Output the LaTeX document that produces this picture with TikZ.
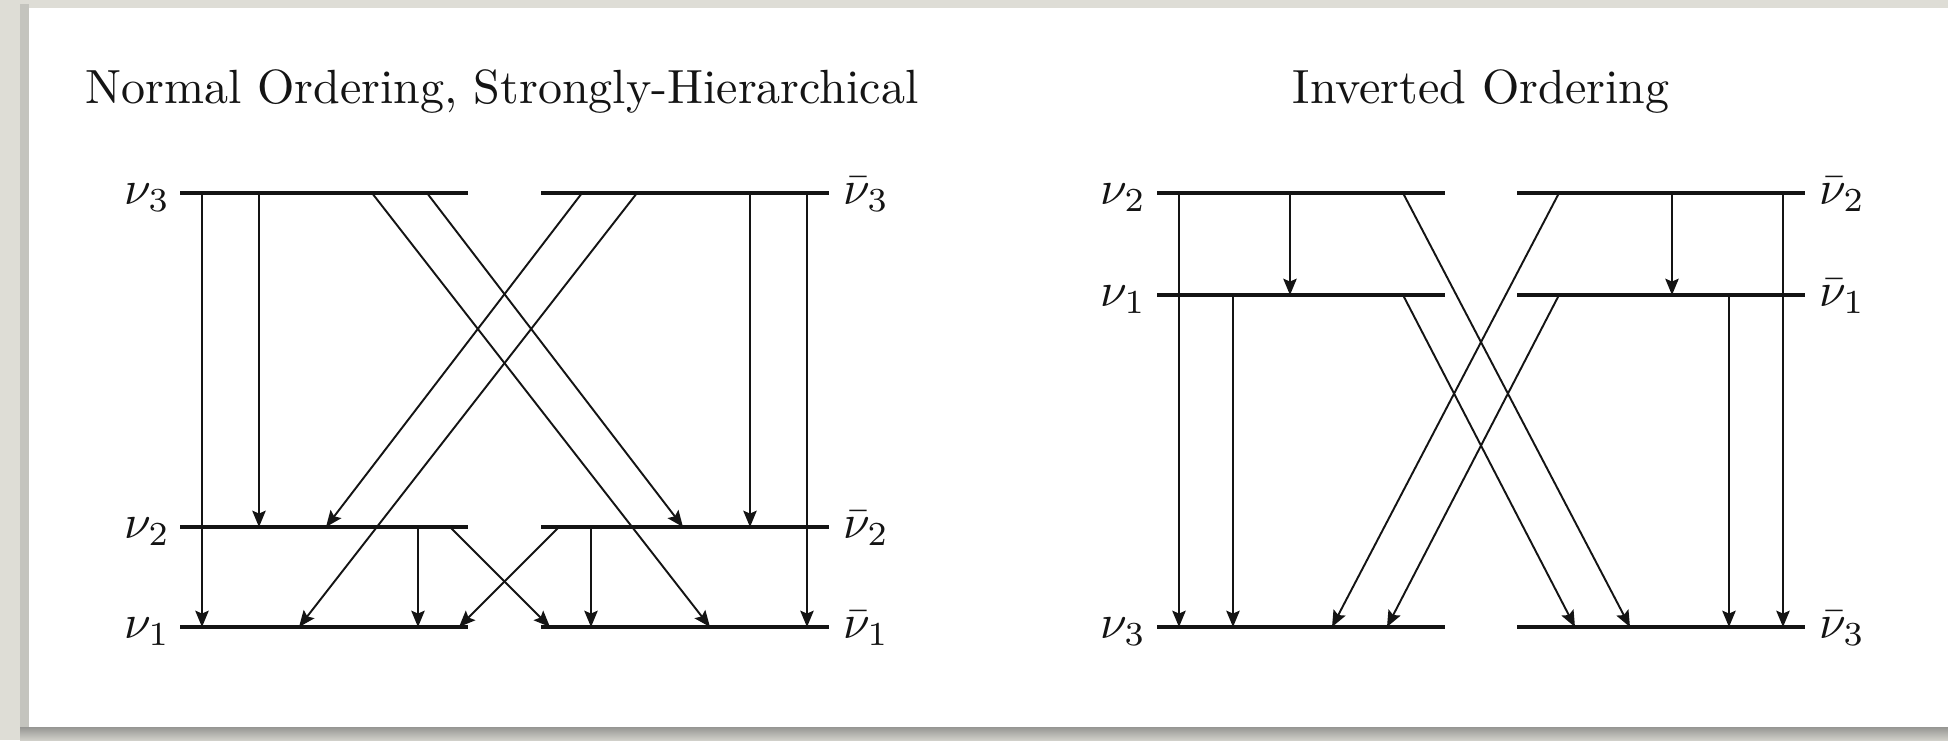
\documentclass[tikz,border=0pt]{standalone}
\usetikzlibrary{arrows.meta}
\definecolor{bggrey}{RGB}{222,221,214}
\definecolor{shadowgrey}{RGB}{150,150,147}
\definecolor{edgegrey}{RGB}{196,196,190}
\definecolor{ink}{RGB}{20,20,20}
\begin{document}
\begin{tikzpicture}[x=0.20833pt,y=-0.20833pt,
  levelline/.style={line width=0.8pt,draw=ink},
  trans/.style={line width=0.4pt,draw=ink,-{Stealth[length=3.4pt,width=2.8pt,inset=0.6pt]}},
  lab/.style={inner sep=0pt,text=ink},
  ttl/.style={inner sep=0pt,text=ink,anchor=base}]
\useasboundingbox (0,0) rectangle (1948,740);
% background card
\fill[bggrey] (0,0) rectangle (1948,740);
\fill[edgegrey] (20,4) rectangle (29,740);
\shade[top color=shadowgrey,bottom color=bggrey!80!shadowgrey] (20,727) rectangle (1948,740);
\fill[white] (29,8) rectangle (1948,727);

% titles
\node[ttl] (t1) at (502,103) {Normal Ordering, Strongly-Hierarchical};
\node[ttl] (t2) at (1481,103) {Inverted Ordering};

% ---------- left panel: level lines ----------
\foreach \n/\y in {3/193,2/527,1/627}{
  \coordinate (nL\n) at (180,\y); \coordinate (nR\n) at (468,\y);
  \coordinate (bL\n) at (541,\y); \coordinate (bR\n) at (829,\y);
  \draw[levelline] (nL\n) -- (nR\n);
  \draw[levelline] (bL\n) -- (bR\n);
}
\node[lab,anchor=base east] (ln3) at (171,204) {$\nu_3$};
\node[lab,anchor=base east] (ln2) at (171,538) {$\nu_2$};
\node[lab,anchor=base east] (ln1) at (171,638) {$\nu_1$};
\node[lab,anchor=base west] (lb3) at (843,204) {$\bar{\nu}_3$};
\node[lab,anchor=base west] (lb2) at (843,538) {$\bar{\nu}_2$};
\node[lab,anchor=base west] (lb1) at (843,638) {$\bar{\nu}_1$};

% arrow end points, left panel
\coordinate (a1s) at (202,193); \coordinate (a1e) at (202,627);
\coordinate (a2s) at (259,193); \coordinate (a2e) at (259,527);
\coordinate (a3s) at (372,193); \coordinate (a3e) at (710,627);
\coordinate (a4s) at (427,193); \coordinate (a4e) at (683,527);
\coordinate (a5s) at (582,193); \coordinate (a5e) at (326,527);
\coordinate (a6s) at (637,193); \coordinate (a6e) at (299,627);
\coordinate (a7s) at (750,193); \coordinate (a7e) at (750,527);
\coordinate (a8s) at (807,193); \coordinate (a8e) at (807,627);
\coordinate (a9s) at (418,527); \coordinate (a9e) at (418,627);
\coordinate (a10s) at (591,527); \coordinate (a10e) at (591,627);
\coordinate (a11s) at (450,527); \coordinate (a11e) at (550,627);
\coordinate (a12s) at (559,527); \coordinate (a12e) at (459,627);
\foreach \i in {1,...,12}{ \draw[trans] (a\i s) -- (a\i e); }

% ---------- right panel: level lines ----------
\foreach \n/\y in {2/193,1/295,3/627}{
  \coordinate (iL\n) at (1157,\y); \coordinate (iR\n) at (1445,\y);
  \coordinate (jL\n) at (1517,\y); \coordinate (jR\n) at (1805,\y);
  \draw[levelline] (iL\n) -- (iR\n);
  \draw[levelline] (jL\n) -- (jR\n);
}
\node[lab,anchor=base east] (rn2) at (1147,204) {$\nu_2$};
\node[lab,anchor=base east] (rn1) at (1147,306) {$\nu_1$};
\node[lab,anchor=base east] (rn3) at (1147,638) {$\nu_3$};
\node[lab,anchor=base west] (rb2) at (1819,204) {$\bar{\nu}_2$};
\node[lab,anchor=base west] (rb1) at (1819,306) {$\bar{\nu}_1$};
\node[lab,anchor=base west] (rb3) at (1819,638) {$\bar{\nu}_3$};

\coordinate (b1s) at (1179,193); \coordinate (b1e) at (1179,627);
\coordinate (b2s) at (1290,193); \coordinate (b2e) at (1290,295);
\coordinate (b3s) at (1233,295); \coordinate (b3e) at (1233,627);
\coordinate (b4s) at (1403,193); \coordinate (b4e) at (1630,627);
\coordinate (b5s) at (1403,295); \coordinate (b5e) at (1575,627);
\coordinate (b6s) at (1559,193); \coordinate (b6e) at (1332,627);
\coordinate (b7s) at (1559,295); \coordinate (b7e) at (1387,627);
\coordinate (b8s) at (1672,193); \coordinate (b8e) at (1672,295);
\coordinate (b9s) at (1729,295); \coordinate (b9e) at (1729,627);
\coordinate (b10s) at (1783,193); \coordinate (b10e) at (1783,627);
\foreach \i in {1,...,10}{ \draw[trans] (b\i s) -- (b\i e); }
\end{tikzpicture}
\end{document}
